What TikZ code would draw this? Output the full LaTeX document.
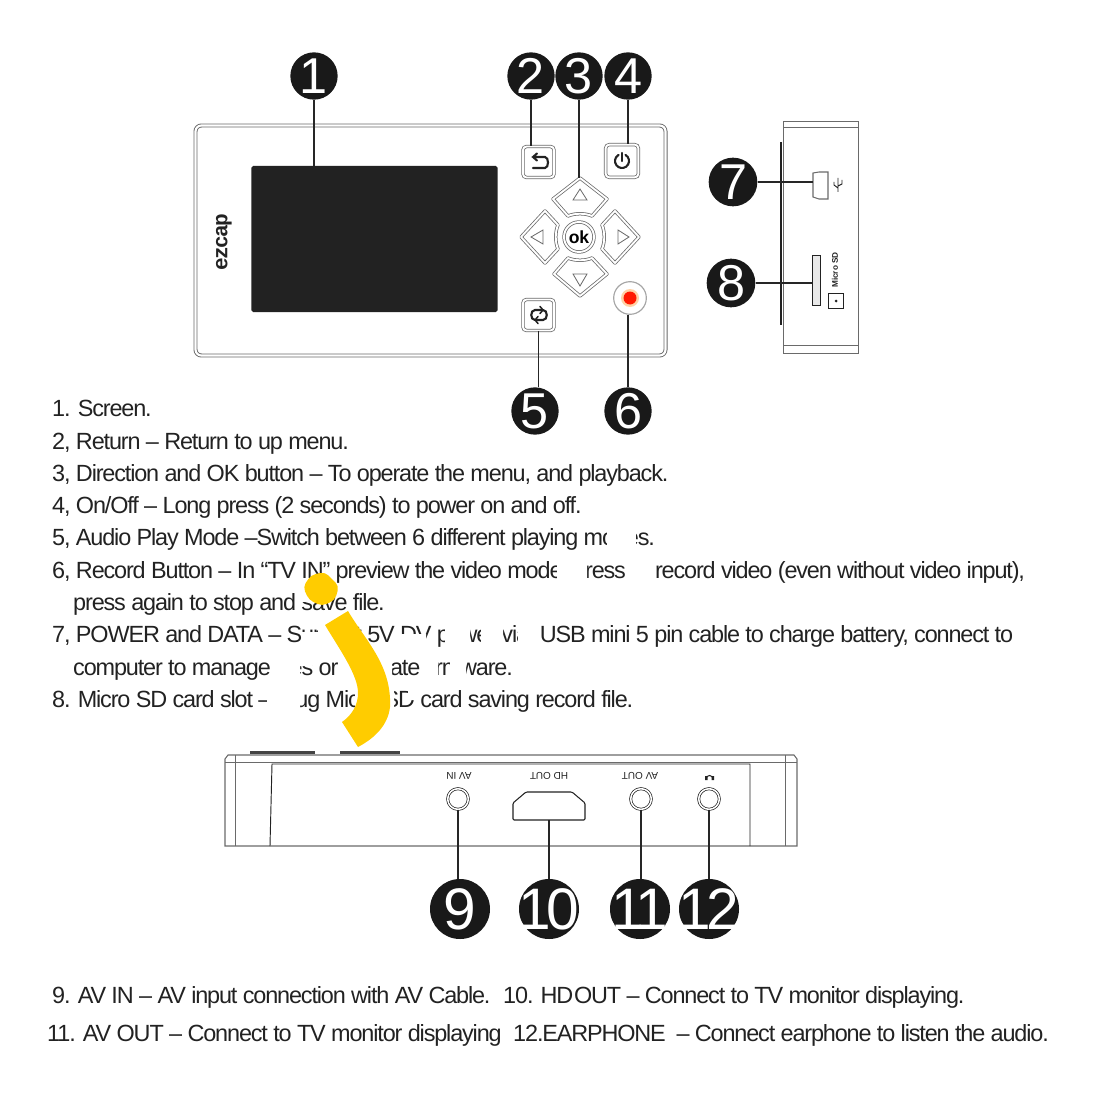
\documentclass[tikz,border=0pt]{standalone}
\usepackage{fontspec}
\setmainfont{Liberation Sans}
\newfontfamily\manualfont[LetterSpace=-4.9]{Liberation Sans}
\newfontfamily\badgefont[LetterSpace=-6]{Liberation Sans}
\newfontfamily\widebadgefont[LetterSpace=-7]{Liberation Sans}
\newfontfamily\brandfont[LetterSpace=-8]{Liberation Mono}
\usetikzlibrary{calc}
\definecolor{inkgray}{HTML}{222222}
\definecolor{linegray}{HTML}{6A6A6A}
\definecolor{markyellow}{HTML}{FFCC00}
\tikzset{
	badge/.style={circle,fill=black!90,text=white,inner sep=-12pt,minimum size=1.42cm,font=\badgefont\fontsize{43}{43}\selectfont},
	bigbadge/.style={badge,minimum size=1.8cm,inner sep=-30pt,font=\widebadgefont\fontsize{50}{50}\selectfont},
	lead/.style={line width=.9pt,black!85},
	casing/.style={draw=linegray,line width=.65pt,double=white,double distance=1.6pt},
	keycap/.style={casing,rounded corners=3pt,fill=white,minimum size=.93cm,inner sep=0pt},
	glyph/.style={line width=1.8pt,inkgray,line cap=round},
	arrowmark/.style={linegray,line width=.7pt},
	thin/.style={linegray,line width=.7pt},
	manual/.style={anchor=base west,inner sep=0pt,text=inkgray,font=\manualfont\fontsize{20}{24}\selectfont},
	jack/.style={circle,draw=inkgray,line width=.6pt,double=white,double distance=1.3pt,minimum size=.62cm,inner sep=0pt},
	upside/.style={rotate=180,inner sep=0pt,text=inkgray,font=\fontsize{8.5}{9}\selectfont},
}
\begin{document}
\begin{tikzpicture}[x=.03cm,y=-.03cm]
	\useasboundingbox (0,0) rectangle (1096,1100);
	
	% front of the device
	\draw[draw=linegray,line width=.8pt,double=white,double distance=1.8pt,rounded corners=5pt] (195.5,125.5) rectangle (665.5,355.5);
	\node[fill=inkgray,rounded corners=1.5pt,minimum width=7.38cm,minimum height=4.39cm,inner sep=0pt] (Screen) at (374.5,239) {};
	\node[rotate=90,inner sep=0pt,text=inkgray,font=\brandfont\bfseries\fontsize{18}{18}\selectfont] (Brand) at (224,242) {ezcap};
	
	\node[keycap] (Back) at (538.5,162) {};
	\node[keycap,minimum size=.98cm] (Power) at (622,161) {};
	\node[keycap] (Loop) at (538.5,315) {};
	
	\draw[glyph] (534,157) -- (545,157) .. controls (549,157) and (549,168) .. (545,168) -- (533,168);
	\draw[glyph] (537,153.5) -- (533,157) -- (537,160.5);
	\draw[glyph] (622,153) -- (622,161);
	\draw[glyph] (625.5,154.94) arc[start angle=-60,end angle=240,radius=7];
	\draw[glyph] (542,310) -- (535,310) .. controls (530,310) and (530,320) .. (535,320);
	\draw[glyph] (535,320) -- (543,320) .. controls (548,320) and (548,310) .. (543,310);
	\draw[glyph,line width=1.3pt] (540,306.5) -- (543,310) -- (540,313.5);
	\draw[glyph,line width=1.3pt] (538,316.5) -- (535,320) -- (538,323.5);
	
	% direction keys
	\coordinate (Up) at (580,178);
	\draw[casing,line join=round] (580,178) -- (607,199) -- (592,216) .. controls (585,213) and (575,213) .. (568,216) -- (553,199) -- cycle;
	\draw[casing,line join=round] (580,296) -- (607,274) -- (592,258) .. controls (585,261) and (575,261) .. (568,258) -- (554,274) -- cycle;
	\draw[casing,line join=round] (521,237) -- (545,211) -- (558,225) .. controls (555,232) and (555,242) .. (558,249) -- (545,263) -- cycle;
	\draw[casing,line join=round] (639,237) -- (615,211) -- (602,225) .. controls (605,232) and (605,242) .. (602,249) -- (615,263) -- cycle;
	\draw[arrowmark] (580,189) -- (587,200) -- (573,200) -- cycle;
	\draw[arrowmark] (580,286) -- (587,274) -- (573,274) -- cycle;
	\draw[arrowmark] (531,237) -- (543,230) -- (543,244) -- cycle;
	\draw[arrowmark] (629,237) -- (618,230) -- (618,244) -- cycle;
	\node[circle,casing,minimum size=.9cm,inner sep=0pt,font=\bfseries\fontsize{15}{15}\selectfont,text=black] (Ok) at (579,237) {ok};
	
	\node[circle,draw=linegray!60,line width=1pt,fill=white,minimum size=.98cm,inner sep=0pt] (Rec) at (630,298) {};
	\fill[orange!35] (Rec) circle (9);
	\fill[red!80!orange] (Rec) circle (6.5);
	
	% side of the device
	\draw[thin] (783,121) rectangle (858,353);
	\draw[thin] (783,127) -- (858,127);
	\draw[thin] (783,345) -- (858,345);
	\draw[line width=1pt,inkgray] (781,142) -- (781,325);
	\coordinate (Usb) at (813,182);
	\draw[thin,line width=.9pt] (813,182) -- (813,173) -- (819,172) -- (828,172) -- (828,199) -- (819,199) -- (813,197) -- cycle;
	\draw[line width=.8pt,inkgray] (838,178) -- (838,192) (834,182) -- (834,185) -- (838,188) (842,180) -- (842,184) -- (838,186);
	\coordinate (Slot) at (812,283);
	\draw[line width=.8pt,inkgray,fill=linegray!15] (812,255) rectangle (820,305);
	\node[draw=inkgray,line width=.7pt,minimum size=.46cm,inner sep=0pt] (SdIcon) at (836,301) {};
	\fill[inkgray] (SdIcon) circle (1.5);
	\node[rotate=90,inner sep=0pt,text=inkgray,font=\bfseries\fontsize{7}{7}\selectfont] (SdLabel) at (835,270) {Micro SD};
	
	% bottom of the device
	\draw[line width=2pt,inkgray!85] (250,752.5) -- (315,752.5) (340,752.5) -- (400,752.5);
	\draw[thin,line width=.9pt] (225,846) -- (225,759) -- (228,755) -- (794,755) -- (797,759) -- (797,846) -- cycle;
	\draw[thin] (225,762) -- (797,762);
	\draw[thin] (235,755) -- (235,846);
	\draw[thin] (785,755) -- (785,846);
	\draw[line width=.8pt,inkgray] (270,846) -- (272,764) -- (750,764) -- (750,846);
	\node[jack] (AvIn) at (458,799) {};
	\node[jack] (AvOut) at (641,799) {};
	\node[jack] (Phone) at (709,799) {};
	\coordinate (HdOut) at (549,820);
	\draw[line width=.9pt,inkgray,rounded corners=1pt] (513,820) -- (513,803) -- (526,792) -- (572,792) -- (585,803) -- (585,820) -- cycle;
	\node[upside] (AvInLabel) at (459,776) {AV IN};
	\node[upside] (HdLabel) at (549,776) {HD OUT};
	\node[upside] (AvOutLabel) at (640,776) {AV OUT};
	\draw[line width=.9pt,inkgray] (706,779) arc[start angle=180,end angle=360,radius=3.5];
	\fill[inkgray] (705,776) rectangle (707.5,780) (711.5,776) rectangle (714,780);
	
	% numbers
	\node[badge] (NumA) at (314,76) {1};
	\node[badge] (NumB) at (531,76) {2};
	\node[badge] (NumC) at (579,76) {3};
	\node[badge] (NumD) at (628,76) {4};
	\node[badge] (NumE) at (535,411) {5};
	\node[badge] (NumF) at (628,411) {6};
	\node[badge,minimum size=1.46cm] (NumG) at (733,182) {7};
	\node[badge,minimum size=1.46cm] (NumH) at (731,283) {8};
	\node[bigbadge] (NumI) at (460,909) {9};
	\node[bigbadge] (NumJ) at (549,909) {10};
	\node[bigbadge] (NumK) at (640,909) {11};
	\node[bigbadge] (NumL) at (709,909) {12};
	
	\draw[lead] (NumA) -- (NumA |- Screen.north);
	\draw[lead] (NumB) -- (NumB |- Back.north);
	\draw[lead] (NumC) -- (NumC |- Up);
	\draw[lead] (NumD) -- (NumD |- Power.north);
	\draw[lead] (Loop) -- (Loop |- NumE.north);
	\draw[lead] (NumF) -- (NumF |- Rec.south);
	\draw[lead] (NumG) -- (Usb);
	\draw[lead] (NumH) -- (Slot);
	\draw[lead] (AvIn) -- (AvIn |- NumI.north);
	\draw[lead] (HdOut) -- (HdOut |- NumJ.north);
	\draw[lead] (AvOut) -- (AvOut |- NumK.north);
	\draw[lead] (Phone) -- (Phone |- NumL.north);
	
	% manual text
	\node[manual] (TextA) at (52,416) {1. Screen.};
	\node[manual] (TextB) at (52,449) {2, Return – Return to up menu.};
	\node[manual] (TextC) at (52,481) {3, Direction and OK button – To operate the menu, and playback.};
	\node[manual] (TextD) at (52,513) {4, On/Off – Long press (2 seconds) to power on and off.};
	\node[manual] (TextE) at (52,545) {5, Audio Play Mode –Switch between 6 different playing modes.};
	\node[manual] (TextF) at (52,578) {6, Record Button – In “TV IN” preview the video mode, press to record video (even without video input),};
	\node[manual] (TextG) at (73,610) {press again to stop and save file.};
	\node[manual] (TextH) at (52,642) {7, POWER and DATA – Support 5V DV power via\ \ USB mini 5 pin cable to charge battery, connect to};
	\node[manual] (TextI) at (73,675) {computer to manage files or\ \ \ update firmware.};
	\node[manual] (TextJ) at (52,707) {8. Micro SD card slot – Plug Micro SD card saving record file.};
	\node[manual] (TextK) at (52,1003) {9. AV IN – AV input connection with AV Cable.};
	\node[manual] (TextL) at (503,1003) {10. HD\hspace{-.2em} OUT – Connect to TV monitor displaying.};
	\node[manual] (TextM) at (47,1041) {11. AV OUT – Connect to TV monitor displaying};
	\node[manual] (TextN) at (513,1041) {12.EARPHONE\ \ – Connect earphone to listen the audio.};
	
	% worn patches and the yellow mark
	\fill[white] (607,527) rectangle (636,549);
	\fill[white] (557,560) rectangle (587,585) (626,560) rectangle (652,585);
	\fill[white] (300,592) rectangle (318,602);
	\fill[white] (302,632) rectangle (336,648) (318,622) rectangle (336,632) (396,634) rectangle (426,646) (445,622) rectangle (470,648) (481,622) rectangle (503,648) (518,622) rectangle (537,648);
	\fill[white] (272,656) rectangle (300,680) (300,656) rectangle (312,666) (340,656) rectangle (392,680) (424,656) rectangle (438,680) (450,656) rectangle (466,680);
	\fill[white] (267,688) rectangle (300,714) (355,690) rectangle (394,712) (408,690) rectangle (418,700);
	\fill[markyellow,rounded corners=4pt] (311,575) -- (325,572) -- (339,586) -- (335,600) -- (322,606) -- (309,600) -- (303,587) -- cycle;
	\fill[markyellow] (325,625) -- (348,611) .. controls (365,640) and (392,665) .. (390,707) .. controls (388,725) and (375,738) .. (358,747) -- (342,722) .. controls (352,715) and (358,705) .. (358,693) .. controls (358,675) and (340,650) .. (325,625) -- cycle;
\end{tikzpicture}
\end{document}
